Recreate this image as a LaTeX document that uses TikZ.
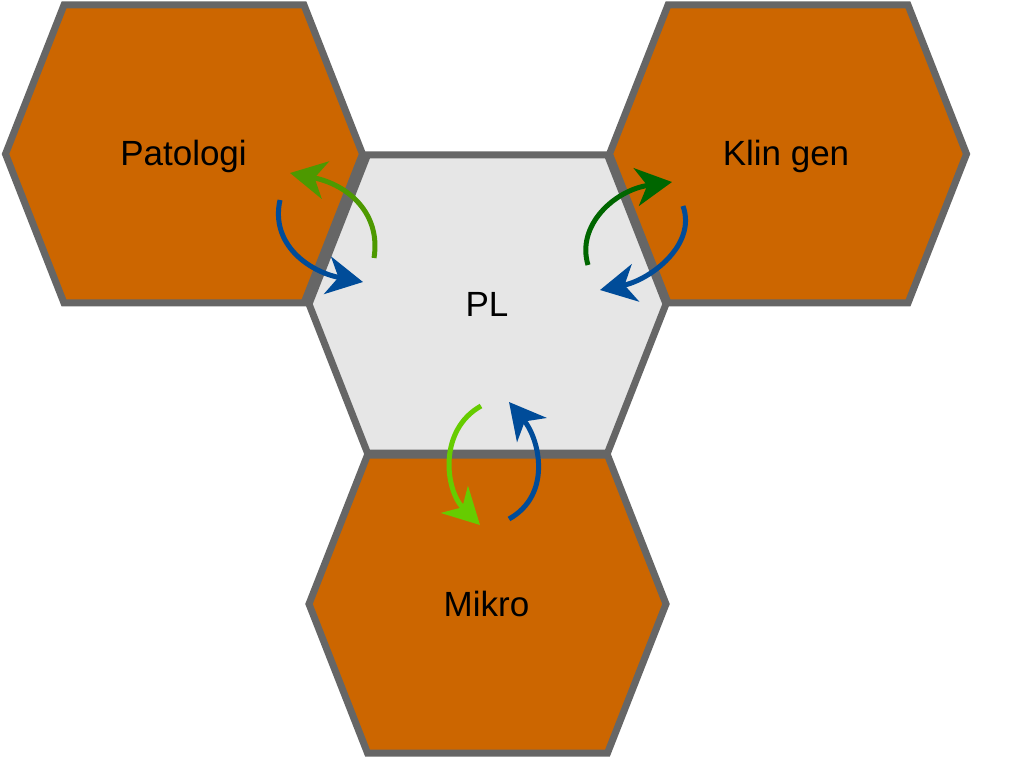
\documentclass[tikz,border=0pt]{standalone}
\usepackage{fontspec}
\setmainfont{Liberation Sans}
\usetikzlibrary{arrows.meta}
\definecolor{Edge}{HTML}{666666}
\definecolor{Lab}{HTML}{CC6600}
\definecolor{Hub}{HTML}{E6E6E6}
\definecolor{Leaf}{HTML}{4D9900}
\definecolor{Forest}{HTML}{006600}
\definecolor{Lime}{HTML}{66CC00}
\definecolor{Navy}{HTML}{004C99}
\begin{document}
\begin{tikzpicture}[x=1pt,y=-1pt,
  hexa/.style={draw=Edge,line width=7pt,line join=miter},
  hexlabel/.style={font=\fontsize{35}{40}\selectfont,text=black},
  flow/.style={-{Stealth[length=36pt,width=38pt,inset=11pt]},line width=5pt}
]
  \useasboundingbox (0,0) rectangle (1026,759);
  % hexagons
  \foreach \cx/\cy/\col in {184/154/Lab,788/154/Lab,487.5/304/Hub,487.5/604/Lab}
    \draw[hexa,fill=\col] (\cx-178.5,\cy) -- (\cx-120,\cy-149) -- (\cx+120,\cy-149)
      -- (\cx+178.5,\cy) -- (\cx+120,\cy+149) -- (\cx-120,\cy+149) -- cycle;
  \node[hexlabel] (pat) at (183.5,156) {Patologi};
  \node[hexlabel] (klin) at (786,156) {Klin gen};
  \node[hexlabel] (pl) at (487,304) {PL};
  \node[hexlabel] (mikro) at (486.5,604) {Mikro};
  % arrow ends
  \coordinate (patA) at (374,258);  \coordinate (patB) at (290,173);
  \coordinate (patC) at (280,200);  \coordinate (patD) at (363,282);
  \coordinate (klinA) at (588,265); \coordinate (klinB) at (672,182);
  \coordinate (klinC) at (683,206); \coordinate (klinD) at (600,290);
  \coordinate (mikA) at (481,406);  \coordinate (mikB) at (480,525);
  \coordinate (mikC) at (509,519);  \coordinate (mikD) at (509,402);
  % exchanges
  \draw[flow,draw=Leaf] (patA) .. controls (381,215) and (350,185) .. (patB);
  \draw[flow,draw=Navy] (patC) .. controls (270,245) and (310,272) .. (patD);
  \draw[flow,draw=Forest] (klinA) .. controls (576,225) and (615,190) .. (klinB);
  \draw[flow,draw=Navy] (klinC) .. controls (697,245) and (650,280) .. (klinD);
  \draw[flow,draw=Lime] (mikA) .. controls (438,430) and (445,490) .. (mikB);
  \draw[flow,draw=Navy] (mikC) .. controls (552,495) and (540,440) .. (mikD);
\end{tikzpicture}
\end{document}
